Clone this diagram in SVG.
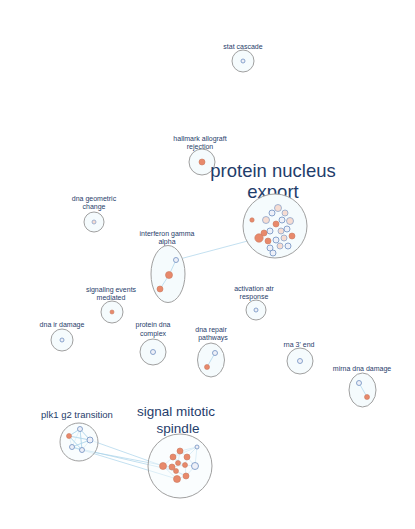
<svg xmlns="http://www.w3.org/2000/svg" width="415" height="529" viewBox="0 0 415 529">
<style>
text{font-family:"Liberation Sans",Arial,sans-serif;fill:#1f3d6b;text-anchor:middle}
.s{font-size:7px}
.grp{fill:#f5fbfd;stroke:#a0a0a0;stroke-width:1}
.o{fill:#e8896b;stroke:#c97a60;stroke-width:0.6}
.w{fill:#eef0f8;stroke:#6f8fc0;stroke-width:0.8}
.p{fill:#f6dcd2;stroke:#7f9cc8;stroke-width:0.7}
.e{stroke:#a9d2ea;stroke-width:0.7;fill:none}
</style>
<rect width="415" height="529" fill="#ffffff"/>
<g id="connectors">
<line class="e" x1="259" y1="238" x2="176" y2="260"/>
<line class="e" x1="176" y1="260" x2="169" y2="275"/>
<line class="e" x1="169" y1="275" x2="160" y2="289"/>
<line class="e" x1="215" y1="353" x2="207" y2="367"/>
<line class="e" x1="359" y1="383" x2="367" y2="397"/>
<g class="e">
<line x1="69" y1="436" x2="80" y2="429"/><line x1="69" y1="436" x2="90" y2="440"/><line x1="69" y1="436" x2="72" y2="447"/><line x1="69" y1="436" x2="82" y2="450"/>
<line x1="80" y1="429" x2="90" y2="440"/><line x1="80" y1="429" x2="72" y2="447"/><line x1="80" y1="429" x2="82" y2="450"/>
<line x1="90" y1="440" x2="72" y2="447"/><line x1="90" y1="440" x2="82" y2="450"/><line x1="72" y1="447" x2="82" y2="450"/>
<line x1="82" y1="450" x2="177" y2="479"/><line x1="72" y1="447" x2="176" y2="471"/><line x1="90" y1="440" x2="163" y2="466"/><line x1="82" y1="450" x2="172" y2="467"/>
</g>
<g class="e">
<line x1="197" y1="447" x2="180" y2="451"/><line x1="197" y1="447" x2="195" y2="466"/><line x1="197" y1="447" x2="187" y2="457"/><line x1="197" y1="447" x2="173" y2="457"/>
<line x1="180" y1="451" x2="173" y2="457"/><line x1="180" y1="451" x2="187" y2="457"/><line x1="173" y1="457" x2="163" y2="466"/><line x1="173" y1="457" x2="178" y2="463"/>
<line x1="187" y1="457" x2="195" y2="466"/><line x1="187" y1="457" x2="185" y2="465"/><line x1="163" y1="466" x2="172" y2="467"/><line x1="163" y1="466" x2="177" y2="479"/>
<line x1="172" y1="467" x2="176" y2="471"/><line x1="178" y1="463" x2="185" y2="465"/><line x1="185" y1="465" x2="195" y2="466"/><line x1="185" y1="465" x2="186" y2="476"/>
<line x1="176" y1="471" x2="186" y2="476"/><line x1="186" y1="476" x2="177" y2="479"/><line x1="195" y1="466" x2="186" y2="476"/><line x1="180" y1="451" x2="178" y2="463"/>
<line x1="163" y1="466" x2="186" y2="476"/><line x1="173" y1="457" x2="185" y2="465"/><line x1="172" y1="467" x2="185" y2="465"/>
</g>
<g class="e">
<line x1="278" y1="208" x2="272" y2="213"/><line x1="278" y1="208" x2="285" y2="213"/><line x1="272" y1="213" x2="266" y2="220"/><line x1="272" y1="213" x2="282" y2="220"/>
<line x1="285" y1="213" x2="290" y2="221"/><line x1="266" y1="220" x2="276" y2="224"/><line x1="282" y1="220" x2="276" y2="224"/><line x1="290" y1="221" x2="287" y2="229"/>
<line x1="276" y1="224" x2="270" y2="231"/><line x1="276" y1="224" x2="281" y2="231"/><line x1="281" y1="231" x2="287" y2="229"/><line x1="270" y1="231" x2="264" y2="233"/>
<line x1="264" y1="233" x2="259" y2="238"/><line x1="270" y1="231" x2="276" y2="240"/><line x1="281" y1="231" x2="284" y2="238"/><line x1="284" y1="238" x2="292" y2="236"/>
<line x1="276" y1="240" x2="268" y2="241"/><line x1="268" y1="241" x2="259" y2="238"/><line x1="276" y1="240" x2="280" y2="246"/><line x1="284" y1="238" x2="280" y2="246"/>
<line x1="268" y1="241" x2="270" y2="248"/><line x1="280" y1="246" x2="273" y2="253"/><line x1="270" y1="248" x2="273" y2="253"/><line x1="292" y1="236" x2="288" y2="246"/>
<line x1="266" y1="220" x2="282" y2="220"/><line x1="272" y1="213" x2="290" y2="221"/><line x1="264" y1="233" x2="287" y2="229"/><line x1="266" y1="220" x2="270" y2="231"/>
<line x1="282" y1="220" x2="287" y2="229"/><line x1="276" y1="224" x2="284" y2="238"/><line x1="259" y1="238" x2="281" y2="231"/><line x1="270" y1="248" x2="288" y2="246"/>
</g>
</g>
<g id="stat-cascade"><text class="s" x="243" y="49">stat cascade</text><circle class="grp" cx="243" cy="61" r="11"/><circle class="w" cx="243" cy="61" r="2"/></g>
<g id="hallmark-allograft-rejection"><text class="s" x="200" y="141">hallmark allograft</text><text class="s" x="200" y="149">rejection</text><circle class="grp" cx="202" cy="162" r="13"/><circle class="o" cx="202" cy="162" r="3"/></g>
<g id="protein-nucleus-export"><text x="273" y="177" font-size="18.5">protein nucleus</text><text x="273" y="198" font-size="18.5">export</text><circle class="grp" cx="275" cy="226" r="32"/>
<circle class="o" cx="252" cy="220" r="2.2"/>
<circle class="p" cx="278" cy="208" r="3.5"/><circle class="w" cx="272" cy="213" r="3"/><circle class="p" cx="285" cy="213" r="3"/><circle class="p" cx="266" cy="220" r="3.5"/><circle class="w" cx="282" cy="220" r="3"/><circle class="p" cx="290" cy="221" r="3.5"/>
<circle class="o" cx="276" cy="224" r="3"/><circle class="w" cx="270" cy="231" r="3"/><circle class="p" cx="281" cy="231" r="3"/><circle class="w" cx="287" cy="229" r="3"/><circle class="o" cx="264" cy="233" r="3"/>
<circle class="o" cx="259" cy="238" r="4.2"/><circle class="w" cx="276" cy="240" r="3"/><circle class="p" cx="284" cy="238" r="3"/><circle class="o" cx="292" cy="236" r="3"/><circle class="o" cx="268" cy="241" r="3"/>
<circle class="p" cx="280" cy="246" r="3"/><circle class="w" cx="270" cy="248" r="3"/><circle class="w" cx="273" cy="253" r="3"/><circle class="w" cx="288" cy="246" r="3"/></g>
<g id="interferon-gamma-alpha"><text class="s" x="167" y="236">interferon gamma</text><text class="s" x="167" y="244">alpha</text><ellipse class="grp" cx="168" cy="274" rx="17" ry="28.5"/>
<line class="e" x1="176" y1="260" x2="169" y2="275"/><line class="e" x1="169" y1="275" x2="160" y2="289"/>
<circle class="w" cx="176" cy="260" r="2.5"/><circle class="o" cx="169" cy="275" r="3.5"/><circle class="o" cx="160" cy="289" r="3"/></g>
<g id="dna-geometric-change"><text class="s" x="94" y="201">dna geometric</text><text class="s" x="94" y="209">change</text><circle class="grp" cx="94" cy="222" r="10"/><circle class="p" cx="94" cy="222" r="2"/></g>
<g id="signaling-events-mediated"><text class="s" x="111" y="292">signaling events</text><text class="s" x="111" y="300">mediated</text><circle class="grp" cx="112" cy="312" r="11"/><circle class="o" cx="112" cy="312" r="2"/></g>
<g id="dna-ir-damage"><text class="s" x="62" y="327">dna ir damage</text><circle class="grp" cx="62" cy="340" r="11"/><circle class="w" cx="62" cy="340" r="2"/></g>
<g id="protein-dna-complex"><text class="s" x="153" y="327">protein dna</text><text class="s" x="153" y="336">complex</text><circle class="grp" cx="153" cy="352" r="13"/><circle class="w" cx="153" cy="352" r="2.5"/></g>
<g id="activation-atr-response"><text class="s" x="254" y="291">activation atr</text><text class="s" x="254" y="299">response</text><circle class="grp" cx="256" cy="310" r="10"/><circle class="w" cx="256" cy="310" r="2"/></g>
<g id="dna-repair-pathways"><text class="s" x="211" y="332">dna repair</text><text class="s" x="213" y="340">pathways</text><ellipse class="grp" cx="211" cy="360" rx="13.5" ry="17"/><line class="e" x1="215" y1="353" x2="207" y2="367"/><circle class="w" cx="215" cy="353" r="2.5"/><circle class="o" cx="207" cy="367" r="2.5"/></g>
<g id="rna-3-end"><text class="s" x="299" y="347">rna 3' end</text><circle class="grp" cx="300" cy="361" r="13"/><circle class="w" cx="300" cy="361" r="2.5"/></g>
<g id="mirna-dna-damage"><text class="s" x="362" y="371">mirna dna damage</text><ellipse class="grp" cx="362.5" cy="390" rx="13.5" ry="17"/><line class="e" x1="359" y1="383" x2="367" y2="397"/><circle class="w" cx="359" cy="383" r="2.5"/><circle class="o" cx="367" cy="397" r="2.5"/></g>
<g id="plk1-g2-transition"><text x="77" y="418" font-size="9.5">plk1 g2 transition</text><circle class="grp" cx="79" cy="442" r="19" fill-opacity="0.6"/>
<g class="e"><line x1="69" y1="436" x2="80" y2="429"/><line x1="69" y1="436" x2="90" y2="440"/><line x1="80" y1="429" x2="90" y2="440"/><line x1="90" y1="440" x2="72" y2="447"/><line x1="72" y1="447" x2="82" y2="450"/><line x1="80" y1="429" x2="82" y2="450"/><line x1="69" y1="436" x2="82" y2="450"/></g>
<circle class="o" cx="69" cy="436" r="2.5"/><circle class="w" cx="80" cy="429" r="2.5"/><circle class="w" cx="90" cy="440" r="3"/><circle class="w" cx="72" cy="447" r="2.5"/><circle class="w" cx="82" cy="450" r="2.5"/></g>
<g id="signal-mitotic-spindle"><text x="176" y="416" font-size="13.5">signal mitotic</text><text x="178" y="433" font-size="13.5">spindle</text><circle class="grp" cx="180" cy="466" r="32" fill-opacity="0.5"/>
<circle class="w" cx="197" cy="447" r="2"/><circle class="o" cx="180" cy="451" r="3"/><circle class="o" cx="173" cy="457" r="3"/><circle class="o" cx="187" cy="457" r="3"/><circle class="o" cx="163" cy="466" r="3.5"/>
<circle class="o" cx="172" cy="467" r="3"/><circle class="o" cx="178" cy="463" r="2.5"/><circle class="o" cx="185" cy="465" r="2.5"/><circle class="w" cx="195" cy="466" r="3.5"/><circle class="o" cx="176" cy="471" r="2.5"/>
<circle class="o" cx="186" cy="476" r="3"/><circle class="o" cx="177" cy="479" r="3.5"/></g>
</svg>
